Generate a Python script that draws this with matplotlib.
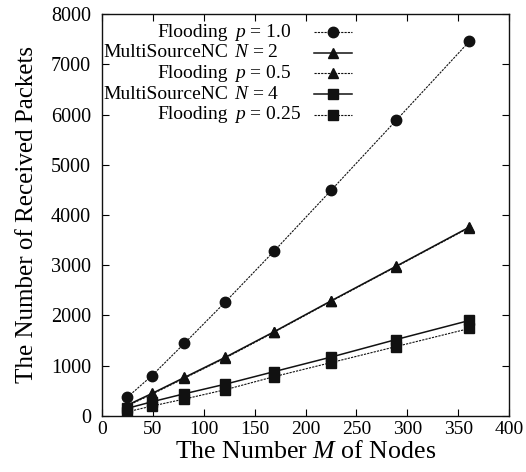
import matplotlib.pyplot as plt
import numpy as np

plt.rcParams['font.family'] = ['Liberation Serif', 'DejaVu Serif']
plt.rcParams['mathtext.fontset'] = 'custom'
plt.rcParams['mathtext.rm'] = 'Liberation Serif'
plt.rcParams['mathtext.it'] = 'Liberation Serif:italic'

# number of nodes (square grids)
nodes = [25, 49, 81, 121, 169, 225, 289, 361]

flood_p10 = [372, 800, 1445, 2265, 3280, 4490, 5885, 7460]
msnc_n2 = [215, 445, 765, 1165, 1675, 2290, 2980, 3760]
flood_p05 = [200, 430, 750, 1150, 1665, 2280, 2970, 3750]
msnc_n4 = [150, 280, 440, 630, 880, 1170, 1520, 1900]
flood_p025 = [80, 195, 335, 520, 780, 1060, 1380, 1740]

names = ['Flooding', 'MultiSourceNC', 'Flooding', 'MultiSourceNC', 'Flooding']
params = ['$p$ = 1.0', '$N$ = 2', '$p$ = 0.5', '$N$ = 4', '$p$ = 0.25']
series = [flood_p10, msnc_n2, flood_p05, msnc_n4, flood_p025]
markers = ['o', '^', '^', 's', 's']
dashed = [True, False, True, False, True]

col = '#111111'

fig = plt.figure(figsize=(5.26, 4.72), dpi=100)
ax = fig.add_axes([0.194, 0.119, 0.774, 0.851])

for vals, mk, dsh in zip(series, markers, dashed):
    if dsh:
        ax.plot(nodes, vals, color=col, lw=0.8, ls=(0, (2, 1)), marker=mk,
                ms=7.5, mec=col, mfc=col)
    else:
        ax.plot(nodes, vals, color=col, lw=1.1, ls='-', marker=mk,
                ms=7.5, mec=col, mfc=col)

ax.set_xlim(0, 400)
ax.set_ylim(0, 8000)
ax.set_xticks(np.arange(0, 401, 50))
ax.set_yticks(np.arange(0, 8001, 1000))
ax.tick_params(direction='in', top=True, right=True, length=5, width=0.8,
               labelsize=14.5)
ax.tick_params(axis='x', pad=4, labelsize=14)
ax.tick_params(axis='y', pad=8)
for s in ax.spines.values():
    s.set_linewidth(1.0)
    s.set_color(col)

ax.set_xlabel('The Number $M$ of Nodes', fontsize=18.6, labelpad=2)
ax.set_ylabel('The Number of Received Packets', fontsize=18, labelpad=9)

# gnuplot-style key: name right aligned, parameter left aligned, sample at right
row_y = [0.955, 0.904, 0.853, 0.801, 0.749]
for i in range(5):
    y = row_y[i]
    ax.text(0.309, y, names[i], transform=ax.transAxes, ha='right',
            va='center', fontsize=14)
    ax.text(0.324, y, params[i], transform=ax.transAxes, ha='left',
            va='center', fontsize=14)
    if dashed[i]:
        ax.plot([0.521, 0.615], [y, y], transform=ax.transAxes, color=col,
                lw=0.8, ls=(0, (2, 1)))
    else:
        ax.plot([0.521, 0.615], [y, y], transform=ax.transAxes, color=col,
                lw=1.1)
    ax.plot([0.568], [y], transform=ax.transAxes, marker=markers[i], ms=7.5,
            color=col, ls='none')

fig.savefig('out.png', dpi=100)
